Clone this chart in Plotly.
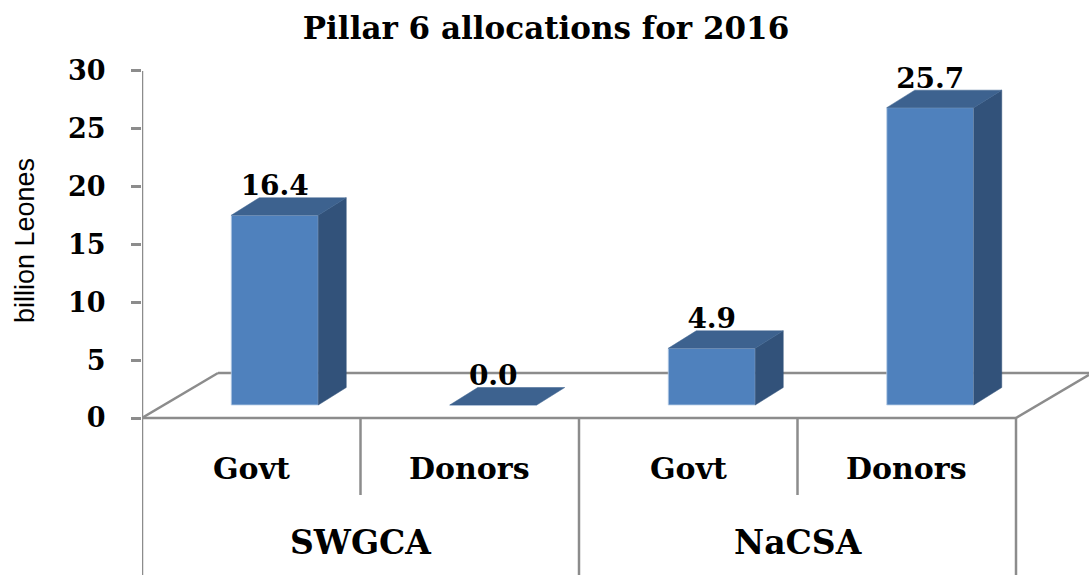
import plotly.graph_objects as go

groups = ["SWGCA", "NaCSA"]
categories = ["Govt", "Donors", "Govt", "Donors"]
values = [16.4, 0.0, 4.9, 25.7]
y_ticks = [0, 5, 10, 15, 20, 25, 30]

PX_X = 218.5          # pixels per category
PX_Y = 11.57          # pixels per unit
BASE = 13 / PX_Y      # bars stand on the floor, behind its front edge
BAR_W = 87 / PX_X
OFFSET = 23.5 / PX_X
DX = 28 / PX_X
DY = 17.5 / PX_Y
FLOOR_DX = 76 / PX_X
FLOOR_DY = 45 / PX_Y
BOTTOM = -157 / PX_Y
TOP = 418 / PX_Y
X_MAX = 3.5 + 73 / PX_X
GREY = "#8c8c8c"
FONT = "DejaVu Serif"

xs = [i + OFFSET for i in range(len(values))]
fig = go.Figure()
fig.add_trace(go.Bar(x=xs, y=values, base=BASE, width=BAR_W,
                     marker=dict(color="#4f81bd", line=dict(color="#bcd0e8", width=0.8)),
                     showlegend=False, hoverinfo="skip"))

for x, v in zip(xs, values):
    l, r, t = x - BAR_W / 2, x + BAR_W / 2, BASE + v
    if v > 0:
        fig.add_trace(go.Scatter(x=[r, r + DX, r + DX, r, r], y=[BASE, BASE + DY, t + DY, t, BASE],
                                 mode="lines", fill="toself", fillcolor="#32527a",
                                 line=dict(color="#32527a", width=0.5), showlegend=False, hoverinfo="skip"))
    fig.add_trace(go.Scatter(x=[l, l + DX, r + DX, r, l], y=[t, t + DY, t + DY, t, t],
                             mode="lines", fill="toself", fillcolor="#3d628f",
                             line=dict(color="#3d628f", width=0.5), showlegend=False, hoverinfo="skip"))

# value axis line, which runs on down as the left edge of the category table
fig.add_trace(go.Scatter(x=[-0.5, -0.5], y=[BOTTOM, 30], mode="lines", cliponaxis=False,
                         line=dict(color=GREY, width=2.5), showlegend=False, hoverinfo="skip"))

fig.add_trace(go.Scatter(x=xs, y=[BASE + v + 27 / PX_Y for v in values],
                         text=[f"{v:.1f}" for v in values], mode="text", textposition="middle center",
                         textfont=dict(family=FONT, size=28, color="black", weight="bold"),
                         showlegend=False, hoverinfo="skip"))

def line(x0, y0, x1, y1):
    return dict(type="line", xref="x", yref="y", x0=x0, y0=y0, x1=x1, y1=y1,
                layer="below", line=dict(color=GREY, width=2.5))

shapes = [
    line(-0.5, 0, 3.5, 0),
    line(-0.5, 0, -0.5 + FLOOR_DX, FLOOR_DY),
    line(-0.5 + FLOOR_DX, FLOOR_DY, X_MAX, FLOOR_DY),
    line(3.5, 0, X_MAX, 73 / PX_X / FLOOR_DX * FLOOR_DY),
    line(0.5, 0, 0.5, -77 / PX_Y),
    line(1.5, 0, 1.5, BOTTOM),
    line(2.5, 0, 2.5, -77 / PX_Y),
    line(3.5, 0, 3.5, BOTTOM),
]

annotations = []
for i, c in enumerate(categories):
    annotations.append(dict(x=i, y=-50 / PX_Y, xref="x", yref="y", text=c, showarrow=False,
                            font=dict(family=FONT, size=30, color="black", weight="bold")))
for i, g in enumerate(groups):
    annotations.append(dict(x=0.5 + 2 * i, y=-124 / PX_Y, xref="x", yref="y", text=g, showarrow=False,
                            font=dict(family=FONT, size=33, color="black", weight="bold")))
annotations.append(dict(xref="paper", x=(25 - 142) / 947, xanchor="center", yref="y", y=(418 - 241) / PX_Y,
                        text="billion Leones", textangle=-90, showarrow=False,
                        font=dict(family="Liberation Sans", size=27, color="black")))

fig.update_layout(
    width=1089, height=575, autosize=False,
    margin=dict(l=142, r=0, t=0, b=0, pad=0),
    paper_bgcolor="white", plot_bgcolor="white",
    showlegend=False, shapes=shapes, annotations=annotations,
    title=dict(text="Pillar 6 allocations for 2016", xref="container", x=546 / 1089, xanchor="center",
               yref="container", y=1 - 28 / 575, yanchor="middle",
               font=dict(family=FONT, size=31, color="black", weight="bold")),
    xaxis=dict(range=[-0.5, X_MAX], visible=False, fixedrange=True),
    yaxis=dict(range=[BOTTOM, TOP], tickvals=y_ticks, ticks="outside", ticklen=10, tickwidth=2.5,
               tickcolor=GREY, showgrid=False, zeroline=False, showline=False, fixedrange=True,
               ticklabelstandoff=20,
               tickfont=dict(family=FONT, size=27, color="black", weight="bold")),
)
fig.write_html("out.html", config=dict(displayModeBar=False),
               post_script="document.body.style.margin='0';document.body.style.overflow='hidden';")
